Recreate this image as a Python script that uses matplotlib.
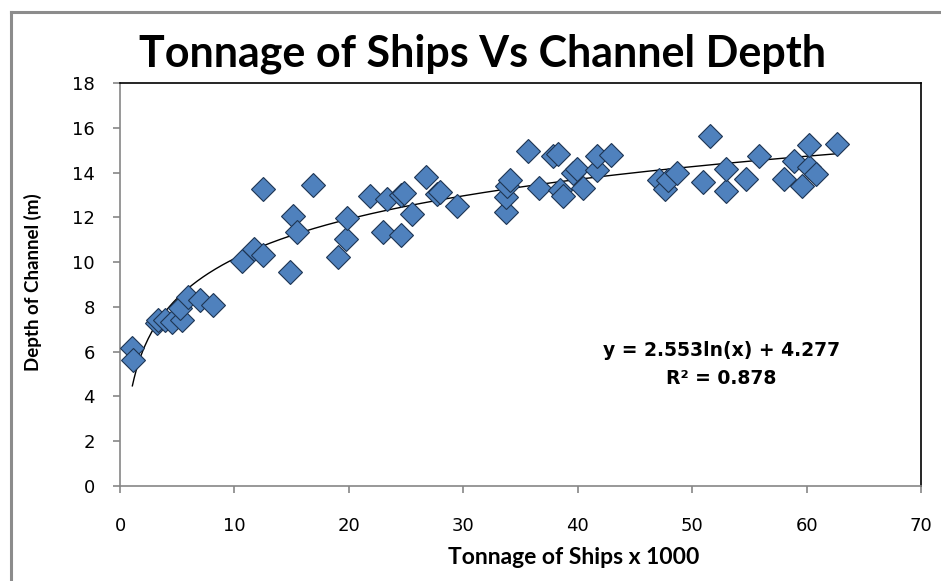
import numpy as np
import matplotlib
matplotlib.use("Agg")
import matplotlib.pyplot as plt
from matplotlib.lines import Line2D

# Data
tonnage = [1.08, 1.17, 3.2, 3.35, 3.93, 4.52, 5.39, 5.24, 5.97, 6.99, 8.16,
           10.66, 11.74, 12.47, 12.5, 14.86, 15.1, 15.44, 16.84, 19.03, 19.76,
           19.8, 21.85, 23.02, 23.37, 24.56, 24.6, 24.85, 25.55, 26.75, 27.68,
           27.97, 29.43, 33.74, 33.74, 33.8, 34.09, 35.63, 36.63, 37.87, 38.3,
           38.46, 38.7, 39.6, 39.9, 40.44, 41.66, 41.66, 42.92, 47.06, 47.64,
           47.93, 48.66, 50.99, 51.54, 52.97, 52.97, 54.69, 55.86, 58.04, 58.92,
           59.64, 60.23, 60.23, 60.81, 62.65]
depth = [6.18, 5.63, 7.27, 7.41, 7.41, 7.34, 7.41, 7.94, 8.45, 8.31, 8.08,
         10.05, 10.59, 10.32, 13.26, 9.54, 12.07, 11.33, 13.45, 10.21, 11.03,
         11.96, 12.94, 11.36, 12.8, 11.2, 13.0, 13.08, 12.13, 13.79, 13.04,
         13.12, 12.51, 12.22, 12.89, 13.41, 13.67, 14.96, 13.3, 14.75, 14.82,
         13.22, 12.97, 13.96, 14.14, 13.3, 14.11, 14.74, 14.78, 13.67, 13.25,
         13.67, 13.99, 13.59, 15.63, 13.18, 14.16, 13.7, 14.74, 13.73, 14.52,
         13.39, 14.23, 15.22, 13.92, 15.27]
fit_a = 2.553
fit_b = 4.277
r_squared = 0.878
x_ticks = [0, 10, 20, 30, 40, 50, 60, 70]
y_ticks = [0, 2, 4, 6, 8, 10, 12, 14, 16, 18]

W, H = 941, 581
fig = plt.figure(figsize=(W / 100, H / 100), dpi=100)
fig.patch.set_facecolor("white")

ax = fig.add_axes([120 / W, 1 - 486 / H, (921 - 120) / W, (486 - 83) / H])

# trendline
xs = np.linspace(min(tonnage), max(tonnage), 400)
ax.plot(xs, fit_a * np.log(xs) + fit_b, color="black", lw=1.0, zorder=2)

ax.plot(tonnage, depth, linestyle="none", marker="D", markersize=12,
        markerfacecolor="#4F81BD", markeredgecolor="#1e3553",
        markeredgewidth=0.8, zorder=3)

ax.set_xlim(0, 70)
ax.set_ylim(0, 18)
ax.set_xticks(x_ticks)
ax.set_yticks(y_ticks)
ax.set_xticklabels([str(v) for v in x_ticks])
ax.set_yticklabels([str(v) for v in y_ticks])

gray = "#868686"
for side in ("left", "bottom"):
    ax.spines[side].set_color(gray)
    ax.spines[side].set_linewidth(1.2)
for side in ("top", "right"):
    ax.spines[side].set_color("black")
    ax.spines[side].set_linewidth(1.2)

ax.tick_params(axis="x", direction="out", length=5, width=1.2, color=gray,
               pad=17, labelsize=13, labelcolor="black")
ax.tick_params(axis="y", direction="out", length=5, width=1.2, color=gray,
               pad=13, labelsize=13, labelcolor="black")
for lab in ax.get_xticklabels() + ax.get_yticklabels():
    lab.set_family("DejaVu Sans")

# Title and axis labels
fig.text(482 / W, 1 - 54 / H, "Tonnage of Ships Vs Channel Depth",
         ha="center", va="center", fontsize=31, fontweight="bold",
         family="Lato")
fig.text(574 / W, 1 - 557 / H, "Tonnage of Ships x 1000",
         ha="center", va="center", fontsize=16.5, fontweight="bold",
         family="Lato")
fig.text(33 / W, 1 - 282 / H, "Depth of Channel (m)",
         ha="center", va="center", rotation=90, fontsize=13.5,
         fontweight="bold", family="Lato")

# Trendline equation
fig.text(722 / W, 1 - 350 / H, f"y = {fit_a}ln(x) + {fit_b}",
         ha="center", va="center", fontsize=13.5, fontweight="bold",
         family="DejaVu Sans")
fig.text(721 / W, 1 - 378 / H, f"R² = {r_squared}",
         ha="center", va="center", fontsize=13.5, fontweight="bold",
         family="DejaVu Sans")

# outer chart frame (top and left edges visible)
fig.add_artist(Line2D([11 / W, 1.0], [1 - 12 / H, 1 - 12 / H],
                      transform=fig.transFigure, color="#8c8c8c", lw=2.2))
fig.add_artist(Line2D([11 / W, 11 / W], [0.0, 1 - 12 / H],
                      transform=fig.transFigure, color="#8c8c8c", lw=2.2))

fig.savefig("out.png", dpi=100, facecolor="white")
